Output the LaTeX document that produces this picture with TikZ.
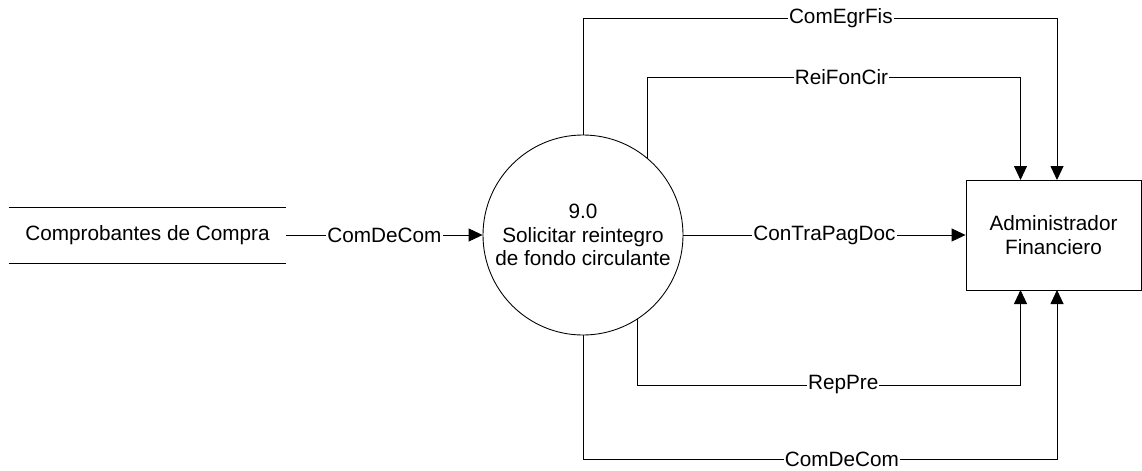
\documentclass[tikz,border=0pt]{standalone}
\usepackage{fontspec}
\setmainfont{Liberation Sans}
\usetikzlibrary{positioning,arrows.meta}

\begin{document}
\begin{tikzpicture}[>={Triangle[length=2.8mm,width=2.6mm]},
  line width=0.5pt,
  font=\fontsize{11.8}{13.4}\selectfont,
  flujo/.style={fill=white,inner sep=0.6pt}]
\useasboundingbox (0,0) rectangle (22.84,9.4);
\node[draw,circle,minimum size=4cm,inner sep=0pt,align=center] (proc) at (11.66,4.7) {9.0\\Solicitar reintegro\\de fondo circulante};
\node[draw,minimum width=3.5cm,minimum height=2.2cm,align=center] (adm) at (21.07,4.7) {Administrador\\Financiero};
\node[minimum width=5.54cm,minimum height=1.1cm] (alm) at (2.95,4.7) {Comprobantes de Compra};
\draw (alm.north west) -- (alm.north east);
\draw (alm.south west) -- (alm.south east);
\coordinate (a1) at (20.41,5.8);
\coordinate (a2) at (21.14,5.8);
\coordinate (b1) at (20.41,3.6);
\coordinate (b2) at (21.14,3.6);
\draw[->] (alm.east) -- node[flujo] {ComDeCom} (proc.west);
\draw[->] (proc.east) -- node[flujo] {ConTraPagDoc} (adm.west);
\draw[->] (proc.north) -- (proc.north |- 0,9.04) -- node[flujo,pos=0.544] {ComEgrFis} (a2 |- 0,9.04) -- (a2);
\draw[->] (proc.50) -- (proc.50 |- 0,7.86) -- node[flujo,pos=0.52] {ReiFonCir} (a1 |- 0,7.86) -- (a1);
\draw[->] (proc.-57) -- (proc.-57 |- 0,1.7) -- node[flujo,pos=0.537] {RepPre} (b1 |- 0,1.7) -- (b1);
\draw[->] (proc.south) -- (proc.south |- 0,0.22) -- node[flujo,pos=0.546] {ComDeCom} (b2 |- 0,0.22) -- (b2);
\end{tikzpicture}
\end{document}
